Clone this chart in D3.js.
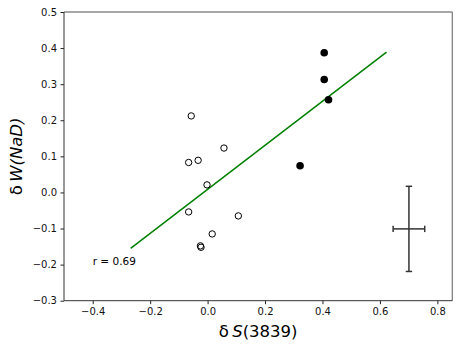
<!DOCTYPE html>
<html><head><meta charset="utf-8">
<script src="https://cdn.jsdelivr.net/npm/d3@7"></script>
<style>body{margin:0;background:#fff}svg{display:block}text{font-family:"DejaVu Sans",sans-serif}</style>
</head><body><svg id="c" width="464" height="349"></svg>
<script>
const openX = [-0.057, -0.066, -0.033, 0.057, -0.002, -0.066, -0.025, -0.023, 0.016, 0.107];
const openY = [0.212, 0.083, 0.089, 0.123, 0.021, -0.054, -0.148, -0.152, -0.115, -0.065];
const filledX = [0.406, 0.406, 0.421, 0.322];
const filledY = [0.387, 0.313, 0.257, 0.074];
const fitX = [-0.268, 0.623];
const fitY = [-0.155, 0.389];
const errX = [0.701], errY = [-0.101], errXerr = [0.055], errYerr = [0.118];
const xTicks = [-0.4, -0.2, 0.0, 0.2, 0.4, 0.6, 0.8];
const yTicks = [-0.3, -0.2, -0.1, 0.0, 0.1, 0.2, 0.3, 0.4, 0.5];
const rText = "r = 0.69";

const svg = d3.select("#c");
const L = 64, R = 452.3, T = 12, B = 300.7;
const x = d3.scaleLinear().domain([-0.5, 0.852]).range([L, R]);
const y = d3.scaleLinear().domain([-0.3, 0.5]).range([B, T]);
const fmt = d => d3.format(".1f")(d).replace("-", "\u2212");

const gx = svg.append("g").attr("transform", `translate(0,${B})`)
  .call(d3.axisBottom(x).tickValues(xTicks).tickFormat(fmt).tickSize(3.5).tickPadding(3.5));
const gy = svg.append("g").attr("transform", `translate(${L},0)`)
  .call(d3.axisLeft(y).tickValues(yTicks).tickFormat(fmt).tickSize(3.5).tickPadding(3.5));
[gx, gy].forEach(g => {
  g.select(".domain").remove();
  g.selectAll("line").attr("stroke", "#222");
  g.selectAll("text").attr("font-size", 10).attr("fill", "#111").attr("font-family", "DejaVu Sans");
});

// frame
svg.append("line").attr("x1", L).attr("x2", R).attr("y1", T).attr("y2", T).attr("stroke", "#888").attr("stroke-width", 1.3);
svg.append("line").attr("x1", R).attr("x2", R).attr("y1", T).attr("y2", B).attr("stroke", "#777").attr("stroke-width", 1.2);
svg.append("line").attr("x1", L).attr("x2", L).attr("y1", T).attr("y2", B).attr("stroke", "#333").attr("stroke-width", 1);
svg.append("line").attr("x1", L).attr("x2", R).attr("y1", B).attr("y2", B).attr("stroke", "#333").attr("stroke-width", 1);

// fit line
svg.append("line").attr("x1", x(fitX[0])).attr("y1", y(fitY[0])).attr("x2", x(fitX[1])).attr("y2", y(fitY[1]))
  .attr("stroke", "green").attr("stroke-width", 1.5);

// open points
svg.append("g").selectAll("circle").data(openX).join("circle")
  .attr("cx", d => x(d)).attr("cy", (d, i) => y(openY[i])).attr("r", 3.2)
  .attr("fill", "none").attr("stroke", "#000").attr("stroke-width", 1);
// filled points
svg.append("g").selectAll("circle").data(filledX).join("circle")
  .attr("cx", d => x(d)).attr("cy", (d, i) => y(filledY[i])).attr("r", 3.8)
  .attr("fill", "#000");

// error bar
const eg = svg.append("g").attr("stroke", "#333").attr("stroke-width", 1.5);
errX.forEach((ex, i) => {
  const ey = errY[i];
  eg.append("line").attr("x1", x(ex - errXerr[i])).attr("x2", x(ex + errXerr[i])).attr("y1", y(ey)).attr("y2", y(ey));
  eg.append("line").attr("x1", x(ex)).attr("x2", x(ex)).attr("y1", y(ey - errYerr[i])).attr("y2", y(ey + errYerr[i]));
  const c = 3.2;
  eg.append("line").attr("x1", x(ex) - c).attr("x2", x(ex) + c).attr("y1", y(ey - errYerr[i])).attr("y2", y(ey - errYerr[i]));
  eg.append("line").attr("x1", x(ex) - c).attr("x2", x(ex) + c).attr("y1", y(ey + errYerr[i])).attr("y2", y(ey + errYerr[i]));
  eg.append("line").attr("x1", x(ex - errXerr[i])).attr("x2", x(ex - errXerr[i])).attr("y1", y(ey) - c).attr("y2", y(ey) + c);
  eg.append("line").attr("x1", x(ex + errXerr[i])).attr("x2", x(ex + errXerr[i])).attr("y1", y(ey) - c).attr("y2", y(ey) + c);
});

// r text
svg.append("text").attr("x", x(-0.4)).attr("y", y(-0.2)).attr("font-size", 10.5).attr("fill", "#000").text(rText);

// axis labels
const xl = svg.append("text").attr("x", (L + R) / 2).attr("y", 336.5).attr("text-anchor", "middle").attr("font-size", 16.5).attr("fill", "#000");
xl.append("tspan").text("\u03b4\u2009");
xl.append("tspan").attr("font-style", "italic").text("S");
xl.append("tspan").text("(3839)");

const yl = svg.append("text").attr("transform", `translate(22,${(T + B) / 2}) rotate(-90)`).attr("text-anchor", "middle").attr("font-size", 16.5).attr("fill", "#000");
yl.append("tspan").text("\u03b4\u2009");
yl.append("tspan").attr("font-style", "italic").text("W(NaD)");
</script></body></html>
